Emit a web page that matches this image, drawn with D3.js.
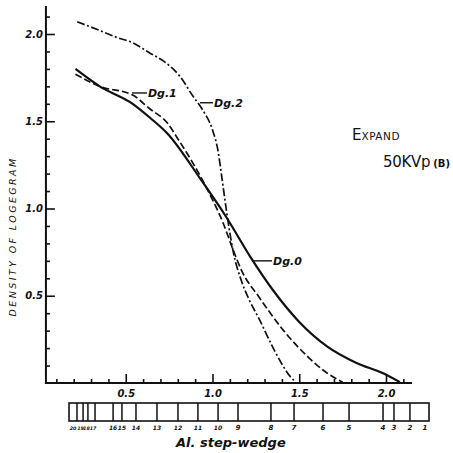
<!DOCTYPE html>
<html>
<head>
<meta charset="utf-8">
<script src="https://cdn.jsdelivr.net/npm/d3@7"></script>
<style>
  html, body { margin: 0; padding: 0; background: #fff; }
  svg text { fill: #111; font-family: "DejaVu Sans", sans-serif; }
</style>
</head>
<body>
<div id="chart"></div>
<script>
const width = 453;
const height = 453;

// Curves: [Al. thickness, density]
const dg0 = [[0.21, 1.80], [0.35, 1.70], [0.54, 1.60], [0.64, 1.52], [0.74, 1.43],
    [0.93, 1.17], [1.08, 0.95], [1.22, 0.72], [1.35, 0.53], [1.50, 0.35],
    [1.66, 0.21], [1.83, 0.115], [1.98, 0.057], [2.08, 0.005]];
const dg1 = [[0.21, 1.77], [0.35, 1.70], [0.54, 1.65], [0.64, 1.57], [0.74, 1.49],
    [0.80, 1.40], [0.97, 1.11], [1.06, 0.92], [1.12, 0.76], [1.17, 0.64],
    [1.27, 0.49], [1.41, 0.30], [1.55, 0.15], [1.66, 0.057], [1.75, 0.005]];
const dg2 = [[0.22, 2.07], [0.35, 2.02], [0.45, 1.98], [0.54, 1.95], [0.64, 1.89],
    [0.71, 1.85], [0.81, 1.76], [0.89, 1.64], [0.94, 1.57], [1.00, 1.45],
    [1.03, 1.34], [1.055, 1.17], [1.08, 0.99], [1.10, 0.86], [1.12, 0.75],
    [1.165, 0.59], [1.21, 0.48], [1.27, 0.365], [1.35, 0.20], [1.45, 0.035], [1.48, 0.005]];

const majorTicks = [0.5, 1.0, 1.5, 2.0];
const xMinorTicks = d3.range(1, 22).map(i => i / 10);
const yMinorTicks = d3.range(1, 22).map(i => i / 10);

// Step-wedge: step numbers and where each step boundary sits on the Al. scale
const steps = [20, 19, 18, 17, 16, 15, 14, 13, 12, 11, 10, 9, 8, 7, 6, 5, 4, 3, 2, 1];
const stepPos = [0.219, 0.254, 0.282, 0.323, 0.427, 0.478, 0.559, 0.680, 0.801, 0.916,
    1.032, 1.147, 1.337, 1.470, 1.637, 1.787, 1.983, 2.046, 2.138, 2.225];
const wedgeStart = 0.173;
const wedgeEnd = 2.248;

const x = d3.scaleLinear().domain([0, 2]).range([39, 386]);
const y = d3.scaleLinear().domain([0, 2]).range([383, 34]);

const svg = d3.select("#chart").append("svg")
    .attr("width", width)
    .attr("height", height);

const ink = "#111";

// axis lines
svg.append("line")
    .attr("x1", x(0.04)).attr("x2", x(0.04))
    .attr("y1", y(0) + 1).attr("y2", y(2.16))
    .attr("stroke", ink).attr("stroke-width", 2);
svg.append("line")
    .attr("x1", x(0.04) - 1).attr("x2", x(2.15))
    .attr("y1", y(0)).attr("y2", y(0))
    .attr("stroke", ink).attr("stroke-width", 2);

// y ticks (drawn to the right, labels to the left)
svg.append("g").attr("transform", `translate(${x(0.04)},0)`)
    .call(d3.axisLeft(y).tickValues(yMinorTicks.filter(v => !majorTicks.includes(v)))
        .tickSizeInner(-4).tickSizeOuter(0).tickFormat(""));
svg.append("g").attr("transform", `translate(${x(0.04)},0)`)
    .call(d3.axisLeft(y).tickValues(majorTicks).tickSizeInner(-9).tickSizeOuter(0)
        .tickPadding(3).tickFormat(d3.format(".1f")));

// x ticks (drawn upward, labels below)
svg.append("g").attr("transform", `translate(0,${y(0)})`)
    .call(d3.axisBottom(x).tickValues(xMinorTicks.filter(v => !majorTicks.includes(v)))
        .tickSizeInner(-4).tickSizeOuter(0).tickFormat(""));
svg.append("g").attr("transform", `translate(0,${y(0)})`)
    .call(d3.axisBottom(x).tickValues(majorTicks).tickSizeInner(-9).tickSizeOuter(0)
        .tickPadding(7).tickFormat(d3.format(".1f")));

svg.selectAll(".domain").remove();
svg.selectAll(".tick line").attr("stroke", ink).attr("stroke-width", 1.6);
svg.selectAll(".tick text")
    .attr("font-size", 10)
    .attr("font-weight", "bold")
    .attr("font-style", "italic")
    .attr("fill", ink);

// y title
svg.append("text")
    .attr("transform", `translate(16,${y(0.84)}) rotate(-90)`)
    .attr("text-anchor", "middle")
    .attr("font-size", 9.5)
    .attr("font-style", "italic")
    .attr("letter-spacing", 2.4)
    .text("DENSITY OF LOGEGRAM");

// curves
const line = d3.line()
    .x(d => x(d[0]))
    .y(d => y(d[1]))
    .curve(d3.curveMonotoneX);

svg.append("path").datum(dg0)
    .attr("d", line).attr("fill", "none")
    .attr("stroke", ink).attr("stroke-width", 2.2);
svg.append("path").datum(dg1)
    .attr("d", line).attr("fill", "none")
    .attr("stroke", ink).attr("stroke-width", 1.7)
    .attr("stroke-dasharray", "7,3");
svg.append("path").datum(dg2)
    .attr("d", line).attr("fill", "none")
    .attr("stroke", ink).attr("stroke-width", 1.7)
    .attr("stroke-dasharray", "8,2.5,2,2.5");

// curve labels with leader lines
const labels = [
    {name: "Dg.0", from: 1.233, to: 1.343, at: 0.70},
    {name: "Dg.1", from: 0.536, to: 0.622, at: 1.662},
    {name: "Dg.2", from: 0.928, to: 1.003, at: 1.606}
];
labels.forEach(l => {
    svg.append("line")
        .attr("x1", x(l.from)).attr("x2", x(l.to))
        .attr("y1", y(l.at)).attr("y2", y(l.at))
        .attr("stroke", ink).attr("stroke-width", 1.4);
    svg.append("text")
        .attr("x", x(l.to) + 1)
        .attr("y", y(l.at) + 4)
        .attr("font-size", 11)
        .attr("font-weight", "bold")
        .attr("font-style", "italic")
        .text(l.name);
});

// annotation
const ann = svg.append("text").attr("x", 352).attr("y", 140);
ann.append("tspan").attr("font-size", 15).text("E");
ann.append("tspan").attr("font-size", 10.5).attr("letter-spacing", 0.5).text("XPAND");
const ann2 = svg.append("text").attr("x", 383).attr("y", 167);
ann2.append("tspan").attr("font-size", 15).attr("letter-spacing", -0.3).text("50KVp");
ann2.append("tspan").attr("font-size", 10).attr("font-weight", "bold").attr("dx", 3).text("(B)");

// step-wedge strip
const boxTop = 403, boxBottom = 421;
svg.append("rect")
    .attr("x", x(wedgeStart)).attr("y", boxTop)
    .attr("width", x(wedgeEnd) - x(wedgeStart))
    .attr("height", boxBottom - boxTop)
    .attr("fill", "none").attr("stroke", ink).attr("stroke-width", 1.6);

svg.append("g").selectAll("line")
    .data(stepPos.slice(0, -1))
    .join("line")
    .attr("x1", d => x(d)).attr("x2", d => x(d))
    .attr("y1", boxTop).attr("y2", boxBottom)
    .attr("stroke", ink).attr("stroke-width", 1.5);

// the four thinnest steps are crowded: nudge their numbers apart
const crowdShift = [-4, -2.5, -1.5, -2];
svg.append("g").selectAll("text")
    .data(steps)
    .join("text")
    .attr("x", (d, i) => x(stepPos[i]) + (crowdShift[i] || 0))
    .attr("y", 430)
    .attr("text-anchor", "middle")
    .attr("font-family", d => d >= 17 ? "DejaVu Sans Condensed" : "DejaVu Sans")
    .attr("font-size", d => d >= 17 ? 4.8 : (d >= 10 ? 6 : 7))
    .attr("font-weight", "bold")
    .attr("font-style", "italic")
    .text(d => d);

svg.append("text")
    .attr("x", 176).attr("y", 447)
    .attr("font-size", 13)
    .attr("font-weight", "bold")
    .attr("font-style", "italic")
    .text("Al. step-wedge");
</script>
</body>
</html>
